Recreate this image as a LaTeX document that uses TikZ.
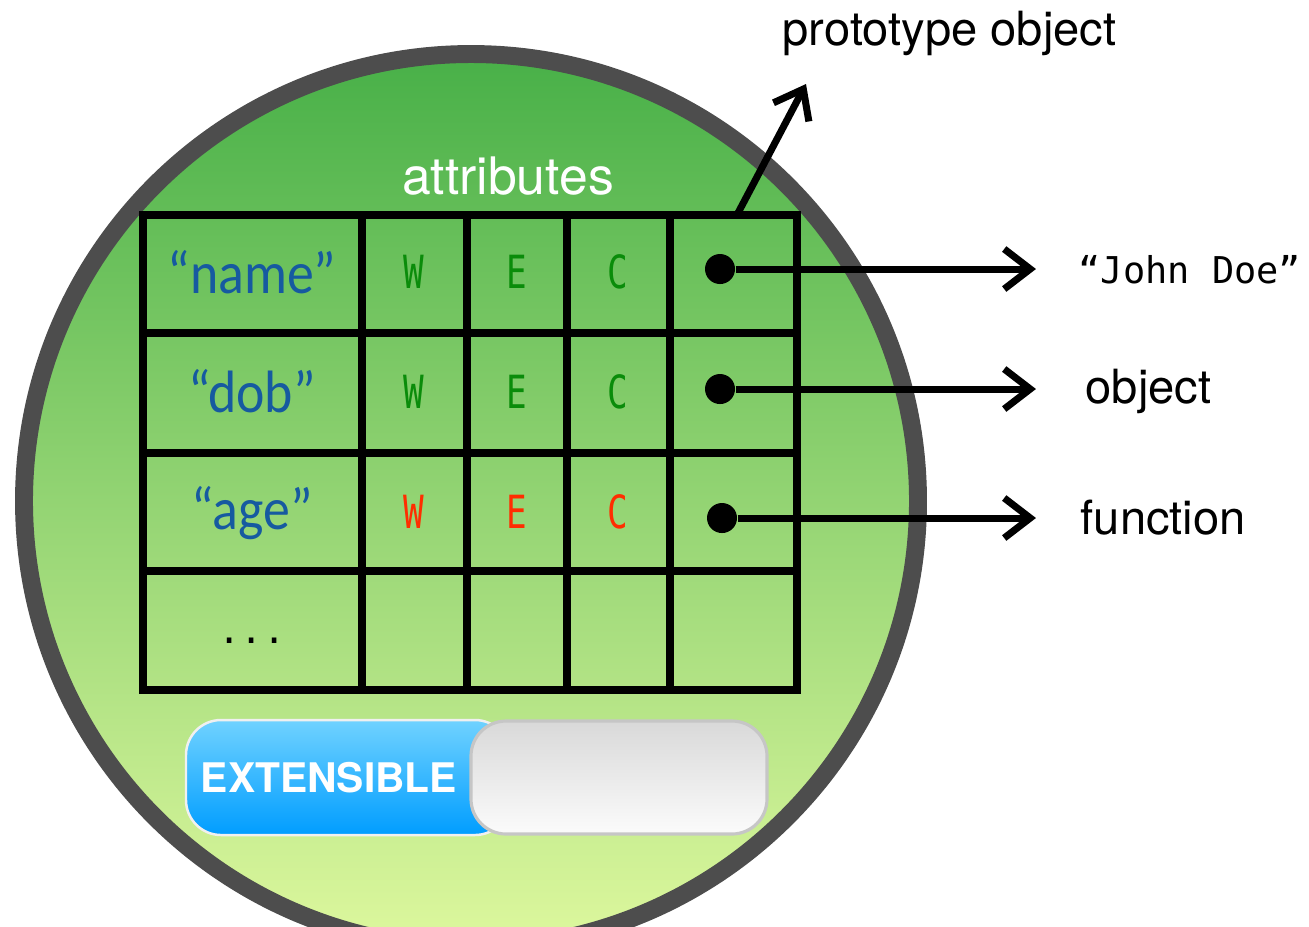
\documentclass[tikz,border=0pt]{standalone}
\usepackage{fontspec}
\setmainfont{TeX Gyre Heros}
\newfontfamily\keyfont[FakeStretch=0.9]{Carlito}
\newfontfamily\flagfont[FakeStretch=0.75]{DejaVu Sans Mono}
\newfontfamily\valfont{DejaVu Sans Mono}
\usetikzlibrary{arrows.meta}
\definecolor{keyblue}{RGB}{22,90,160}
\definecolor{flaggreen}{RGB}{10,140,10}
\definecolor{flagred}{RGB}{255,45,0}
\definecolor{ringgray}{RGB}{77,77,77}
\tikzset{ring/.style={draw=ringgray,line width=5.1pt,top color={rgb,255:red,72;green,176;blue,72},bottom color={rgb,255:red,222;green,248;blue,158}},
 grid/.style={line width=2.1pt},
 ptr/.style={line width=2pt,-{Straight Barb[length=0.26cm,width=0.4cm]}},
 dot/.style={circle,fill,inner sep=0pt,minimum size=0.3cm},
 txt/.style={inner sep=0pt,anchor=base},
 lbl/.style={inner sep=0pt,anchor=base west,font=\fontsize{13.4}{15}\selectfont},
 keytxt/.style={txt,text=keyblue,font=\keyfont\fontsize{17}{19}\selectfont},
 flagok/.style={txt,text=flaggreen,font=\flagfont\fontsize{13}{15}\selectfont},
 flagno/.style={txt,text=flagred,font=\flagfont\fontsize{13}{15}\selectfont}}

\begin{document}
\begin{tikzpicture}[x=0.01cm,y=-0.01cm]
\useasboundingbox (0,0) rectangle (1309,926);
\clip (0,0) rectangle (1309,926);
% Objet : disque vert entoure d'un anneau gris.
\draw[ring] (471,501) circle[radius=447];
\node[txt,text=white,font=\fontsize{14.7}{17}\selectfont] (attr) at (508,194) {attributes};
% Table des attributs.
\draw[grid] (143,215) rectangle (797,690);
\draw[grid] (143,333)--(797,333) (143,453)--(797,453) (143,571)--(797,571);
\draw[grid] (362,215)--(362,690) (467,215)--(467,690) (567,215)--(567,690) (670,215)--(670,690);
\node[keytxt] (kname) at (252,293) {“name”};
\node[keytxt] (kdob) at (252,412) {“dob”};
\node[keytxt] (kage) at (252,529) {“age”};
\node[flagok] (w1) at (414,288) {W};
\node[flagok] (e1) at (517,288) {E};
\node[flagok] (c1) at (618,288) {C};
\node[flagok] (w2) at (414,408) {W};
\node[flagok] (e2) at (517,408) {E};
\node[flagok] (c2) at (618,408) {C};
\node[flagno] (w3) at (414,528) {W};
\node[flagno] (e3) at (517,528) {E};
\node[flagno] (c3) at (618,528) {C};
\node[txt,font=\valfont\fontsize{10.5}{12}\selectfont] (more) at (252,643) {...};
% Valeurs pointees.
\node[dot] (d1) at (720,269) {};
\node[dot] (d2) at (720,389) {};
\node[dot] (d3) at (722,518) {};
\node[lbl,font=\valfont\fontsize{10.5}{12}\selectfont] (john) at (1078,283) {“John Doe”};
\node[lbl] (obj) at (1085,403) {object};
\node[lbl] (func) at (1080,534) {function};
\draw[ptr,shorten >=0.42cm] (d1)--(d1 -| john.west);
\draw[ptr,shorten >=0.42cm] (d2)--(d2 -| john.west);
\draw[ptr,shorten >=0.42cm] (d3)--(d3 -| john.west);
% Lien vers le prototype.
\node[lbl] (proto) at (782,45) {prototype object};
\coordinate (protostart) at (738,213);
\coordinate (protoend) at (806,84);
\draw[ptr] (protostart)--(protoend);
% Interrupteur EXTENSIBLE.
\draw[draw=white!88!gray,line width=0.7pt,rounded corners=0.35cm,top color={rgb,255:red,112;green,210;blue,255},bottom color={rgb,255:red,0;green,157;blue,255}] (186,720) rectangle (510,835);
\draw[draw=gray!45,line width=0.9pt,rounded corners=0.35cm,top color=gray!30,bottom color=gray!3] (471,721) rectangle (767,834);
\node[txt,text=white,font=\bfseries\fontsize{11.6}{13}\selectfont] (ext) at (329,792) {EXTENSIBLE};
\end{tikzpicture}
\end{document}
